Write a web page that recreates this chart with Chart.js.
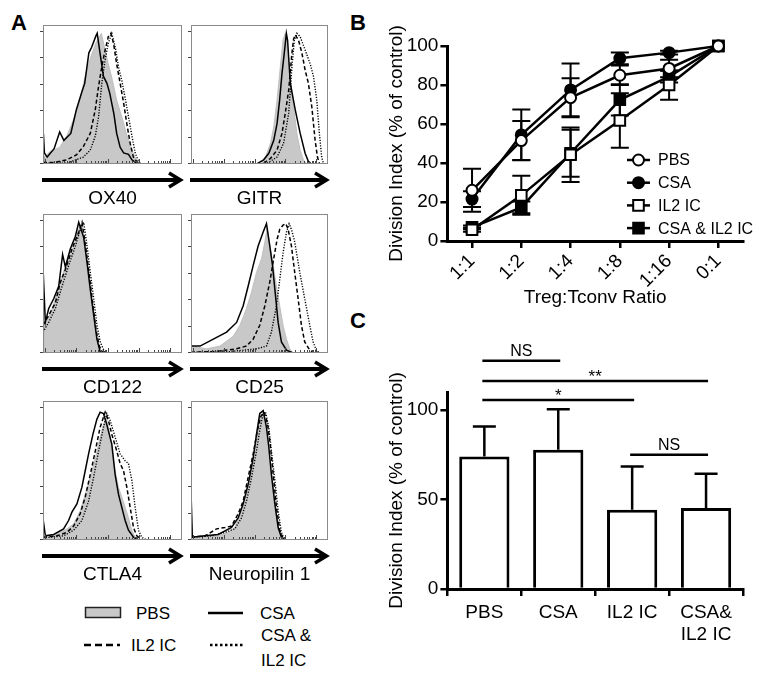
<!DOCTYPE html>
<html>
<head>
<meta charset="utf-8">
<script src="https://cdn.jsdelivr.net/npm/chart.js@4.4.1/dist/chart.umd.min.js"></script>
<style>
  body { margin: 0; background: #fff; }
  #fig { position: relative; width: 761px; height: 673px; overflow: hidden; font-family: 'Liberation Sans', Arial, sans-serif; }
  #fig canvas, #fig svg { position: absolute; }
</style>
</head>
<body>
<div id="fig">
  <svg width="761" height="673" style="left:0;top:0" font-family="'Liberation Sans', Arial, sans-serif">
    <text x="19" y="30" font-size="22" font-weight="bold" text-anchor="middle">A</text>
    <text x="358" y="30" font-size="22" font-weight="bold" text-anchor="middle">B</text>
    <text x="358" y="328" font-size="22" font-weight="bold" text-anchor="middle">C</text>
    <!-- legend of panel A -->
    <rect x="85.5" y="607.5" width="35" height="10" fill="#c8c8c8" stroke="#222" stroke-width="1.5"/>
    <text x="136" y="619" font-size="17">PBS</text>
    <line x1="208" y1="613" x2="243" y2="613" stroke="#000" stroke-width="2.5"/>
    <text x="260" y="619" font-size="17">CSA</text>
    <line x1="84" y1="645" x2="120" y2="645" stroke="#000" stroke-width="2.5" stroke-dasharray="7,4"/>
    <text x="131" y="651" font-size="17">IL2 IC</text>
    <line x1="210" y1="645" x2="244" y2="645" stroke="#000" stroke-width="2.5" stroke-dasharray="2.5,2.5"/>
    <text x="261" y="641" font-size="17">CSA &amp;</text>
    <text x="261" y="666" font-size="17">IL2 IC</text>
  </svg>
</div>
<script>
Chart.defaults.font.family = "'Liberation Sans', Arial, sans-serif";
Chart.defaults.color = '#000';
Chart.defaults.animation = false;

// ---------- panel A: histograms, [channel (% of axis), count (% of max)] ----------
const ox40Pbs = [[0,4],[5,9],[12,12],[17,20],[22,32],[27,48],[30,62],[34,76],[38,87],[42,94],[46,76],[50,60],[53,46],[57,33],[60,22],[64,10],[67,3],[70,0]];
const ox40Csa = [[0,0],[0.3,22],[1,8],[3,5],[8,11],[12,23],[15,17],[20,22],[24,39],[28,52],[30,58],[33,80],[35,84],[38,92],[39,94],[41,80],[43.5,63],[46,58],[48,51],[51,36],[53,22],[55.5,12],[58,8],[61.5,7],[64,3],[67.5,0.5],[70,0]];
const ox40Il2 = [[0,1],[8,1],[17,3],[24,6.5],[29,12.5],[34,22],[37.6,39],[40,56],[42.3,70],[44.7,82],[47,91.6],[48.8,94],[50.7,87],[53,72],[55.5,58],[58,44],[60.3,29],[62.7,15],[65,5],[67.5,1.7],[70,0]];
const ox40Combo = [[0,0.5],[17,0.5],[29,5],[34,10],[37.6,20],[40,34],[42.3,58],[44.7,75],[47,87],[49.5,94],[52,84],[54.3,70],[56.7,60],[59,48],[61.5,34],[64,20],[66.3,8],[68.7,2],[71,0]];

const gitrPbs = [[50.7,0],[54.3,5],[58,15],[60.4,27],[62.8,46],[65.2,70],[67.1,89],[68.8,94],[70.5,82],[72.5,63],[74.9,41],[77.3,22],[79.7,10],[82.1,3],[84.5,0]];
const gitrCsa = [[48,0],[53,3],[56.8,7.7],[60.4,17],[62.8,29],[64.7,46],[66.4,65],[68.1,80],[69.6,94],[70.5,89],[72.5,58],[76.1,39],[79.7,22],[83.3,7.7],[85.7,1.7],[88,0]];
const gitrIl2 = [[53.1,0.5],[58,4],[62.8,10],[66.4,22],[68.8,36.5],[71.3,53],[73.7,80],[74.9,90],[76.1,93],[78.5,89],[80.9,80],[83.3,67.6],[85.7,58],[88.2,41],[90.6,17],[92.3,5],[93.7,0.5]];
const gitrCombo = [[55.6,0.5],[62.8,5],[67.6,15],[71.3,36.5],[73.7,70],[75.4,89],[77.3,94],[79.7,91.6],[83.3,82],[87,72],[89.4,63],[91.8,46],[93.7,22],[95.4,5],[96.6,0.5]];

const cd122Pbs = [[0,15],[6.5,32],[11.3,46],[14.9,59],[18.5,68],[22.1,77],[25.7,89],[28.1,93],[30,75],[31.7,60],[34,44],[36.5,27],[38.8,10],[41.2,2],[42.4,0]];
const cd122Csa = [[0,0],[0.2,57],[1.7,22],[4.1,32],[7.7,39],[11.3,48],[14.1,71],[16.1,62],[19.7,75],[23.3,84],[25.7,94],[29.3,83],[31.7,65],[34,46],[36.5,27],[38.8,10],[41.2,0.5]];
const cd122Il2 = [[0,20],[4.1,27],[8.9,36],[12.5,51],[16.1,60],[20.9,75],[25.7,87],[28.1,94],[30.9,75],[33.3,56],[35.7,36],[38.1,17],[40.5,5],[42.9,0.5]];
const cd122Combo = [[0,15],[4.1,22],[8.9,32],[13.7,48],[18.5,63],[23.3,77],[26.9,89],[29.3,94],[31.7,77],[34,58],[36.5,39],[38.8,20],[41.2,8],[44.4,0.5]];

const cd25Pbs = [[0,5],[11.4,3],[21.1,5],[30.8,12],[35.7,20],[40.5,32],[44.2,44],[47.8,58],[51.5,68],[53.9,80],[55.6,90],[57.5,78],[60,63],[62.4,48],[64.8,34],[67.2,20],[69.7,10],[72.1,3],[74.5,0]];
const cd25Csa = [[0,5],[6.6,5],[16.3,10],[26,15],[33.3,22],[38.1,34],[41.7,48],[45.4,63],[49,77],[52.7,87],[55.1,93],[57.5,77],[59.5,63],[61.4,44],[63.6,22],[66,8],[69.7,2],[74.5,0]];
const cd25Il2 = [[0,0.5],[16.3,1],[33.3,3],[40.5,5],[45.4,10],[50.2,20],[53.9,34],[57.5,51],[60.4,68],[62.9,82],[64.8,89],[67.2,92],[69.2,93],[70.9,89],[73.3,77],[75.7,58],[78.2,39],[80.6,20],[83,8],[86.7,2],[90.3,0]];
const cd25Combo = [[0,0.5],[28.4,1],[47.8,3],[55.1,5],[58.7,15],[62.4,34],[64.8,53],[67.2,72],[69.7,87],[71.6,93],[73.3,89],[75.7,80],[79.4,58],[83,39],[86.7,20],[89.1,8],[91.5,2],[93.9,0]];

const ctla4Pbs = [[0,2],[5.3,2],[12.4,5.5],[17.2,8],[22,11.5],[26.8,21],[30.4,33],[34,45],[37.6,59],[41.1,74],[43.5,83],[45.5,88],[47.1,81],[49.5,67],[51.9,50],[54.3,38],[56.7,31],[59.1,23.5],[61.5,16],[63.9,7],[66.3,2],[68.7,0]];
const ctla4Csa = [[0,0],[0.2,14],[1.7,3],[7.7,4],[14.8,8],[18.4,14],[20.8,20],[24.4,26],[28,38],[30.4,50],[32.8,62],[35.9,76],[38.8,87],[41.1,92],[43.5,91],[45.9,83],[49.5,69],[51.9,47],[54.3,33],[56.7,23.5],[59.1,14],[61.5,7],[65.1,2],[68.7,0]];
const ctla4Il2 = [[0,2],[10,3],[17.2,5.5],[22,10],[26.8,19],[30.4,31],[34,47],[37.6,64],[41.1,81],[44.7,92],[47.1,86],[49.5,76],[53.1,64],[55.5,55],[57.9,50],[60.3,38],[62.7,23.5],[65.1,9],[67.5,3],[71,0]];
const ctla4Combo = [[0,1.5],[14.8,3],[22,7],[28,14],[32.8,28],[36.4,45],[40,64],[43.5,81],[45.9,91],[48.3,86],[51.9,74],[55.5,62],[59.1,57],[61.5,55],[63.9,43],[66.3,23.5],[68.7,7],[71,2],[74.6,0]];

const nrp1Pbs = [[0,2],[10.2,2.5],[19.9,3],[27.2,5.5],[32,9],[35.7,19],[39.3,31],[43,45],[46.1,64],[48.5,79],[50.2,87],[51.9,91],[53.9,86],[55.8,72],[58.3,52],[60.7,33],[63.1,14],[64.8,4],[66.5,0]];
const nrp1Csa = [[0,0],[0.2,28],[1,2],[10.2,3],[19.9,4],[29.6,9],[34.5,16],[38.1,26],[41.7,40],[45.4,59],[47.8,76],[50.2,91],[52.7,93],[55.1,81],[56.8,67],[58.7,47],[61.2,26],[63.6,9],[66,2],[68.4,0]];
const nrp1Il2 = [[0,2],[10.2,3],[18.7,8],[24.8,9],[29.6,10],[34.5,19],[38.1,28],[41.7,45],[45.4,62],[48.5,79],[51,89],[53.4,92],[55.8,84],[57.8,69],[60,47],[62.4,23.5],[64.8,7],[67.2,1]];
const nrp1Combo = [[0,2],[15,3],[24.8,5.5],[32,8],[36.9,16],[40.5,28],[44.2,45],[47.8,64],[50.2,79],[52.7,91],[54.4,92],[56.8,81],[58.7,64],[61.2,43],[63.6,21],[66,5.5],[68.4,0]];

const markerNames = ['OX40', 'GITR', 'CD122', 'CD25', 'CTLA4', 'Neuropilin 1'];

// ---------- panel B ----------
const ratioLabels = ['1:1', '1:2', '1:4', '1:8', '1:16', '0:1'];
const pbsIndex = [26, 51.5, 73.5, 85, 88.5, 100];
const pbsSem = [11, 10, 10, 5, 4.5, 0];
const csaIndex = [21.5, 54.4, 77.5, 93.7, 96.6, 100];
const csaSem = [4, 13, 13.5, 3, 1, 0];
const il2Index = [5.8, 23.4, 44.2, 61.8, 80, 100];
const il2Sem = [1, 10, 14, 14, 7.5, 0];
const comboIndex = [7, 17.2, 45, 72.4, 84.3, 100];
const comboSem = [1, 3, 12, 8, 3, 0];

// ---------- panel C ----------
const groupLabels = ['PBS', 'CSA', 'IL2 IC', ['CSA&', 'IL2 IC']];
const groupMean = [74, 77.7, 44.2, 45.2];
const groupSem = [16.7, 22.7, 24.2, 19.1];
const sigFrom = [0, 0, 0, 2];
const sigTo = [1, 3, 2, 3];
const sigLevel = [127.4, 116.2, 105.6, 74.9];
const sigText = ['NS', '**', '*', 'NS'];

const fig = document.getElementById('fig');
const FONT = "'Liberation Sans', Arial, sans-serif";

function addCanvas(left, top, w, h) {
    const cv = document.createElement('canvas');
    cv.width = w; cv.height = h;
    cv.style.left = left + 'px'; cv.style.top = top + 'px';
    fig.appendChild(cv);
    return cv;
}

// box, ticks, arrow and marker name under each histogram
function histFrame(label) {
    return {
        id: 'histFrame',
        afterDraw(chart) {
            const { ctx, chartArea: { left, right, top, bottom } } = chart;
            ctx.save();
            ctx.strokeStyle = '#8a8a8a';
            ctx.lineWidth = 1;
            ctx.strokeRect(left + 0.5, top + 0.5, right - left - 1, bottom - top - 1);

            ctx.strokeStyle = '#444';
            for (let i = 0; i <= 5; i++) {
                const y = Math.round(bottom - (bottom - top) * 0.19 * i) - 0.5;
                ctx.beginPath(); ctx.moveTo(left - 3, y); ctx.lineTo(left, y); ctx.stroke();
            }
            const dec = (right - left) * 0.225;
            for (let d = 0; d < 5; d++) {
                for (let k = 1; k <= 9; k++) {
                    const x = Math.round(left + 2 + dec * (d + Math.log10(k))) + 0.5;
                    if (x > right - 2) continue;
                    const len = k === 1 ? 4 : 2;
                    ctx.beginPath(); ctx.moveTo(x, bottom - 1); ctx.lineTo(x, bottom - 1 - len); ctx.stroke();
                }
            }

            const ay = bottom + 16;
            ctx.strokeStyle = '#000';
            ctx.lineWidth = 4;
            ctx.beginPath(); ctx.moveTo(left - 1, ay); ctx.lineTo(right - 3, ay); ctx.stroke();
            ctx.lineWidth = 3.5;
            ctx.beginPath(); ctx.moveTo(right - 13, ay - 7); ctx.lineTo(right - 1.5, ay); ctx.lineTo(right - 13, ay + 7); ctx.stroke();

            ctx.fillStyle = '#000';
            ctx.font = '19px ' + FONT;
            ctx.textAlign = 'center';
            ctx.textBaseline = 'middle';
            ctx.fillText(label, (left + right) / 2, bottom + 35);
            ctx.restore();
        }
    };
}

function histogram(label, left, top, w, h, pbs, csa, il2, combo) {
    const pad = { left: 4, right: 4, top: 3, bottom: 54 };
    const cv = addCanvas(left - pad.left, top - pad.top, w + pad.left + pad.right, h + pad.top + pad.bottom);
    const pts = a => a.map(p => ({ x: p[0], y: p[1] }));
    new Chart(cv, {
        type: 'line',
        data: {
            datasets: [
                { data: pts(csa), borderColor: '#000', borderWidth: 1.5, order: 1 },
                { data: pts(il2), borderColor: '#000', borderWidth: 1.5, borderDash: [4, 2.5], order: 1 },
                { data: pts(combo), borderColor: '#000', borderWidth: 1.4, borderDash: [1.2, 1.5], order: 1 },
                { data: pts(pbs), borderColor: '#b8b8b8', backgroundColor: '#c8c8c8', borderWidth: 0.8, fill: 'origin', order: 2 }
            ]
        },
        options: {
            responsive: false,
            animation: false,
            layout: { padding: pad },
            elements: { point: { radius: 0 }, line: { tension: 0 } },
            plugins: { legend: { display: false }, tooltip: { enabled: false } },
            scales: {
                x: { type: 'linear', min: 0, max: 100, display: false },
                y: { min: 0, max: 100, display: false }
            }
        },
        plugins: [histFrame(label)]
    });
}

const histData = [
    [ox40Pbs, ox40Csa, ox40Il2, ox40Combo],
    [gitrPbs, gitrCsa, gitrIl2, gitrCombo],
    [cd122Pbs, cd122Csa, cd122Il2, cd122Combo],
    [cd25Pbs, cd25Csa, cd25Il2, cd25Combo],
    [ctla4Pbs, ctla4Csa, ctla4Il2, ctla4Combo],
    [nrp1Pbs, nrp1Csa, nrp1Il2, nrp1Combo]
];
const colLeft = [43, 191], colWidth = [139, 137], rowTop = [25, 214, 401];
histData.forEach((d, i) => {
    const c = i % 2, r = Math.floor(i / 2);
    histogram(markerNames[i], colLeft[c], rowTop[r], colWidth[c], 139, d[0], d[1], d[2], d[3]);
});

// shared axis look for B and C
function axis(extra) {
    return Object.assign({
        grid: { display: true, drawOnChartArea: false, drawTicks: true, tickLength: 7, color: '#000', lineWidth: 2.5 },
        border: { display: true, color: '#000', width: 3 },
        ticks: { font: { size: 19 }, color: '#000', padding: 2 }
    }, extra);
}

function drawMarker(ctx, ds, x, y) {
    ctx.save();
    ctx.lineWidth = 2;
    ctx.strokeStyle = '#000';
    ctx.fillStyle = ds.pointBackgroundColor;
    ctx.beginPath();
    if (ds.pointStyle === 'rect') {
        const s = Math.SQRT1_2 * ds.pointRadius;
        ctx.rect(x - s, y - s, 2 * s, 2 * s);
    } else {
        ctx.arc(x, y, ds.pointRadius, 0, Math.PI * 2);
    }
    ctx.fill(); ctx.stroke();
    ctx.restore();
}

const semBars = {
    id: 'semBars',
    beforeDatasetsDraw(chart) {
        const { ctx, scales: { y } } = chart;
        ctx.save();
        ctx.strokeStyle = '#000';
        ctx.lineWidth = 2;
        chart.data.datasets.forEach((ds, i) => {
            const meta = chart.getDatasetMeta(i);
            ds.data.forEach((v, j) => {
                const e = ds.sem[j];
                if (!e) return;
                const x = meta.data[j].x;
                const y1 = y.getPixelForValue(v + e), y0 = y.getPixelForValue(v - e);
                ctx.beginPath();
                ctx.moveTo(x, y1); ctx.lineTo(x, y0);
                ctx.moveTo(x - 9, y1); ctx.lineTo(x + 9, y1);
                ctx.moveTo(x - 9, y0); ctx.lineTo(x + 9, y0);
                ctx.stroke();
            });
        });
        ctx.restore();
    }
};

const lineLegend = {
    id: 'lineLegend',
    afterDraw(chart) {
        const { ctx, chartArea: { right, top } } = chart;
        ctx.save();
        ctx.font = '16px ' + FONT;
        ctx.fillStyle = '#000';
        ctx.textBaseline = 'middle';
        chart.data.datasets.forEach((ds, i) => {
            const y = top + 114 + i * 22.7;
            const x0 = right - 116;
            ctx.strokeStyle = '#000';
            ctx.lineWidth = 2.5;
            ctx.beginPath(); ctx.moveTo(x0, y); ctx.lineTo(x0 + 23, y); ctx.stroke();
            drawMarker(ctx, ds, x0 + 11.5, y);
            ctx.fillText(ds.label, x0 + 31, y + 1);
        });
        ctx.restore();
    }
};

const cvB = addCanvas(330, 0, 431, 320);
new Chart(cvB, {
    type: 'line',
    data: {
        labels: ratioLabels,
        datasets: [
            { label: 'PBS', data: pbsIndex, sem: pbsSem, pointStyle: 'circle', pointRadius: 5.5, pointBackgroundColor: '#fff' },
            { label: 'CSA', data: csaIndex, sem: csaSem, pointStyle: 'circle', pointRadius: 5.5, pointBackgroundColor: '#000' },
            { label: 'IL2 IC', data: il2Index, sem: il2Sem, pointStyle: 'rect', pointRadius: 7.5, pointBackgroundColor: '#fff' },
            { label: 'CSA & IL2 IC', data: comboIndex, sem: comboSem, pointStyle: 'rect', pointRadius: 7.5, pointBackgroundColor: '#000' }
        ].map(ds => Object.assign(ds, { borderColor: '#000', borderWidth: 2.5, pointBorderColor: '#000', pointBorderWidth: 2, tension: 0, clip: false }))
    },
    options: {
        responsive: false,
        animation: false,
        layout: { padding: { left: 51.6, right: 18, top: 46, bottom: 6.6 } },
        plugins: { legend: { display: false }, tooltip: { enabled: false } },
        scales: {
            x: axis({
                offset: true,
                ticks: { font: { size: 19 }, color: '#000', padding: 2, minRotation: 45, maxRotation: 45 },
                title: { display: true, text: 'Treg:Tconv Ratio', font: { size: 19 }, color: '#000', padding: { top: 0, bottom: 4 } },
                afterFit(s) { s.height = 72.4; }
            }),
            y: axis({
                min: 0, max: 100,
                ticks: { font: { size: 19 }, color: '#000', padding: 2, stepSize: 20 },
                title: { display: true, text: 'Division Index (% of control)', font: { size: 19 }, color: '#000', padding: { top: 4, bottom: 0 } },
                afterFit(s) { s.width = 65.8; }
            })
        }
    },
    plugins: [semBars, lineLegend]
});

const barSem = {
    id: 'barSem',
    afterDatasetsDraw(chart) {
        const { ctx, scales: { y } } = chart;
        const ds = chart.data.datasets[0];
        const meta = chart.getDatasetMeta(0);
        ctx.save();
        ctx.strokeStyle = '#000';
        ctx.lineWidth = 2.5;
        ds.data.forEach((v, j) => {
            const x = meta.data[j].x;
            const y0 = y.getPixelForValue(v), y1 = y.getPixelForValue(v + ds.sem[j]);
            ctx.beginPath();
            ctx.moveTo(x, y0); ctx.lineTo(x, y1);
            ctx.moveTo(x - 11.5, y1); ctx.lineTo(x + 11.5, y1);
            ctx.stroke();
        });
        ctx.restore();
    }
};

const sigMarks = {
    id: 'sigMarks',
    afterDraw(chart) {
        const { ctx, scales: { x, y } } = chart;
        ctx.save();
        ctx.strokeStyle = '#000';
        ctx.fillStyle = '#000';
        ctx.lineWidth = 2.5;
        ctx.textAlign = 'center';
        ctx.textBaseline = 'alphabetic';
        sigText.forEach((t, i) => {
            const x0 = x.getPixelForValue(sigFrom[i]) - 2, x1 = x.getPixelForValue(sigTo[i]) + 2;
            const yy = y.getPixelForValue(sigLevel[i]);
            ctx.beginPath(); ctx.moveTo(x0, yy); ctx.lineTo(x1, yy); ctx.stroke();
            const star = t.indexOf('*') >= 0;
            ctx.font = (star ? '17px ' : '16px ') + FONT;
            ctx.fillText(t, (x0 + x1) / 2, star ? yy + 1 : yy - 5);
        });
        ctx.restore();
    }
};

const cvC = addCanvas(330, 320, 431, 353);
new Chart(cvC, {
    type: 'bar',
    data: {
        labels: groupLabels,
        datasets: [{
            data: groupMean, sem: groupSem,
            backgroundColor: '#fff', borderColor: '#000', borderWidth: 3,
            barPercentage: 0.68, categoryPercentage: 1
        }]
    },
    options: {
        responsive: false,
        animation: false,
        layout: { padding: { left: 51.6, right: 18, top: 72, bottom: 0 } },
        plugins: { legend: { display: false }, tooltip: { enabled: false } },
        scales: {
            x: axis({
                ticks: { font: { size: 19, lineHeight: 1.15 }, color: '#000', padding: 6 },
                afterFit(s) { s.height = 84; }
            }),
            y: axis({
                min: 0, max: 110,
                afterBuildTicks(s) { s.ticks = [0, 50, 100].map(v => ({ value: v })); },
                title: { display: true, text: 'Division Index (% of control)', font: { size: 19 }, color: '#000', padding: { top: 4, bottom: 0 } },
                afterFit(s) { s.width = 65.8; }
            })
        }
    },
    plugins: [barSem, sigMarks]
});
</script>
</body>
</html>
